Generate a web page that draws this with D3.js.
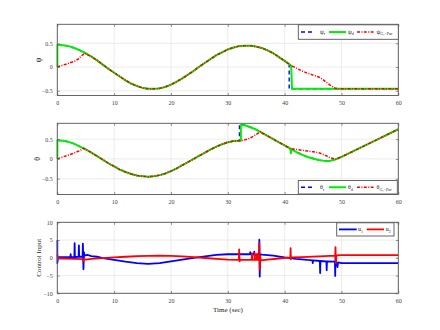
<!DOCTYPE html>
<html><head><meta charset="utf-8">
<script src="https://cdn.jsdelivr.net/npm/d3@7"></script>
<style>
body{margin:0;background:#fff}
svg{display:block}
text{font-family:"Liberation Serif","Times New Roman",serif}
</style>
</head><body>
<svg id="c" width="440" height="330"></svg>
<script>
// ---------------- DATA ----------------
const xTicks = [0,10,20,30,40,50,60];
const psiTicks = [-0.5,0,0.5];
const thetaTicks = [-0.5,0,0.5];
const uTicks = [-10,-5,0,5,10];

// psi (yaw) panel
const psiMid = [[5,0.29],[6,0.22],[7,0.14],[8,0.05],[9,-0.04],[10,-0.12],[11,-0.20],[12,-0.28],[13,-0.35],[14,-0.40],[15,-0.44],[16,-0.46],[17,-0.46],[18,-0.45],[19,-0.42],[20,-0.37],[21,-0.31],[22,-0.24],[23,-0.16],[24,-0.08],[25,0.01],[26,0.09],[27,0.17],[28,0.25],[29,0.31],[30,0.37],[31,0.41],[32,0.44],[33,0.45],[34,0.45],[35,0.43],[36,0.40],[37,0.35],[38,0.29],[39,0.21],[40,0.13]];
const psiRefStart = [[0,0.47],[1,0.46],[2,0.44],[3,0.40],[4,0.35]];
const psiRefEnd = [[40.8,0.06],[40.8,-0.46],[60,-0.46]];
const psiDesStart = [[0,0],[0,0.47],[1,0.46],[2,0.44],[3,0.40],[4,0.35]];
const psiDesEnd = [[41,0.04],[41.15,0.03],[41.3,-0.46],[60,-0.46]];
const psiPurStart = [[0,0],[1,0.04],[2,0.08],[3,0.12],[3.6,0.16],[4.2,0.23],[4.8,0.29]];
const psiPurEnd = [[41,0.04],[42,-0.02],[43,-0.08],[44,-0.13],[45,-0.17],[46,-0.21],[46.6,-0.25],[47.2,-0.31],[48,-0.38],[48.8,-0.44],[49.5,-0.46],[60,-0.46]];

// theta (pitch) panel
const thetaMid = [[5,0.24],[6,0.16],[7,0.07],[8,-0.02],[9,-0.11],[10,-0.19],[11,-0.27],[12,-0.33],[13,-0.38],[14,-0.42],[15,-0.44],[16,-0.45],[17,-0.44],[18,-0.41],[19,-0.37],[20,-0.31],[21,-0.24],[22,-0.16],[23,-0.08],[24,0.0],[25,0.08],[26,0.16],[27,0.24],[28,0.31],[29,0.37],[30,0.42],[31,0.45],[32,0.46]];
const thetaHigh = [[33,0.85],[34,0.80],[35,0.74],[36,0.66],[37,0.58],[38,0.50],[39,0.42],[40,0.34],[41,0.26]];
const thetaLate = [[49,-0.01],[50,0.05],[51,0.12],[52,0.19],[53,0.26],[54,0.33],[55,0.40],[56,0.47],[57,0.54],[58,0.61],[59,0.68],[60,0.75]];
const thetaDip = [[42,0.18],[43,0.11],[44,0.05],[45,0.01],[46,-0.03],[47,-0.05],[48,-0.05]];
const thetaRefStart = [[0,0.47],[1,0.46],[2,0.43],[3,0.38],[4,0.31]];
const thetaRefJump = [[32.05,0.46],[32.05,0.88],[33,0.85]];
const thetaDesStart = [[0,0],[0,0.47],[1,0.46],[2,0.43],[3,0.38],[4,0.31]];
const thetaDesJump = [[32.3,0.46],[32.3,0.86]];
const thetaDesBlip = [[41.1,0.14],[41.2,0.25]];
const thetaPurStart = [[0,0],[1,0.05],[2,0.10],[3,0.15],[4,0.21],[4.6,0.27]];
const thetaPurRise = [[32.3,0.46],[33,0.48],[34,0.53],[35,0.62],[35.8,0.69],[36,0.66],[37,0.58],[38,0.50],[39,0.42],[40,0.34],[41,0.26]];
const thetaPurEnd = [[42,0.24],[43,0.22],[44,0.20],[45,0.18],[46,0.16],[47,0.10],[48,0.03]];

// control inputs
const u1 = [[0,5.0],[0,-1.5],[0.15,0.2],[1,0.2],[2.3,0.2],[2.35,1.0],[2.4,0.2],[3.0,0.2],[3.05,4.1],[3.1,0.2],[3.75,0.3],[3.8,3.5],[3.85,0.3],[4.45,0.3],[4.5,4.0],[4.6,-3.2],[4.7,1.5],[4.8,0.6],[5.3,0.8],[6,0.5],[7,0.3],[8,-0.1],[10,-0.6],[12,-1.1],[14,-1.5],[16,-1.7],[18,-1.5],[20,-1.0],[22,-0.5],[24,0.0],[26,0.4],[28,0.8],[30,1.0],[33.9,1.0],[33.95,1.6],[34.0,1.0],[34.6,1.0],[34.65,1.7],[34.7,0.6],[35.5,1.0],[35.55,5.1],[35.62,-5.3],[35.7,1.0],[36,0.9],[38,0.6],[40,0.1],[42,-0.3],[44,-0.6],[44.9,-0.7],[44.95,-1.5],[45.0,-0.7],[46.2,-0.9],[46.25,-4.3],[46.3,-0.9],[47.35,-1.0],[47.4,-3.5],[47.45,-1.0],[48.85,-1.1],[48.9,-5.1],[48.95,0.5],[49.05,-1.0],[49.3,-2.6],[49.4,-1.3],[50,-1.5],[60,-1.5]];
const u2 = [[0,1.0],[0.1,-0.2],[1,-0.2],[3,-0.3],[4.5,-0.4],[4.6,-1.0],[4.7,-0.4],[5,-0.5],[6,-0.3],[8,-0.1],[10,0.1],[12,0.3],[14,0.45],[16,0.55],[18,0.6],[20,0.55],[22,0.4],[24,0.2],[26,-0.05],[28,-0.3],[30,-0.5],[31.95,-0.6],[32.0,2.4],[32.08,-1.0],[32.2,-0.6],[34.2,-0.6],[34.25,1.3],[34.3,-0.6],[34.7,-0.6],[34.75,1.3],[34.8,-0.6],[35.1,-0.6],[35.15,1.2],[35.2,-0.6],[35.5,-0.6],[35.55,4.1],[35.62,-3.4],[35.7,0.5],[35.8,-0.7],[37,-0.5],[39,-0.2],[41,0.1],[41.05,2.7],[41.1,-0.4],[41.2,0.1],[43,0.2],[45,0.35],[47,0.5],[48.9,0.6],[48.95,3.0],[49.02,-1.5],[49.1,0.7],[50,0.75],[60,0.75]];

// ---------------- DRAW ----------------
const svg = d3.select("#c");
const x = d3.scaleLinear([0,60],[57.3,398.3]);
const BLUE="#0000ff", GREEN="#00ee00", RED="#ff0000";
const styles = {
  ref:{color:BLUE,width:1.4,dash:"4,3"},
  des:{color:GREEN,width:2,dash:null},
  pur:{color:RED,width:1.5,dash:"3,1.4,1,1.4"},
  u1:{color:BLUE,width:1.8,dash:null},
  u2:{color:RED,width:1.8,dash:null}
};

function panel(cfg){
  const y = d3.scaleLinear(cfg.domain,[cfg.bottom,cfg.top]);
  const g = svg.append("g");
  g.selectAll(".gx").data(xTicks).join("line")
    .attr("x1",d=>x(d)).attr("x2",d=>x(d)).attr("y1",cfg.top).attr("y2",cfg.bottom)
    .attr("stroke","#e4e4e4").attr("stroke-width",0.7);
  g.selectAll(".gy").data(cfg.yTicks).join("line")
    .attr("x1",x(0)).attr("x2",x(60)).attr("y1",d=>y(d)).attr("y2",d=>y(d))
    .attr("stroke","#e4e4e4").attr("stroke-width",0.7);
  const clip = "clip"+cfg.id;
  svg.append("clipPath").attr("id",clip).append("rect")
    .attr("x",x(0)-1).attr("y",cfg.top).attr("width",x(60)-x(0)+1).attr("height",cfg.bottom-cfg.top);
  const line = d3.line().x(d=>x(d[0])).y(d=>y(d[1]));
  const sg = g.append("g").attr("clip-path",`url(#${clip})`);
  cfg.series.forEach(s=>{
    const st = styles[s.style];
    sg.append("path").attr("d",line(s.data)).attr("fill","none")
      .attr("stroke",st.color).attr("stroke-width",st.width)
      .attr("stroke-dasharray",st.dash).attr("stroke-linejoin","round");
  });
  const fmt = cfg.fmt;
  const axB = g.append("g").attr("transform",`translate(0,${cfg.bottom})`)
    .call(d3.axisBottom(x).tickValues(xTicks).tickSize(-2.5).tickPadding(5).tickFormat(d3.format("d")));
  const axT = g.append("g").attr("transform",`translate(0,${cfg.top})`)
    .call(d3.axisTop(x).tickValues(xTicks).tickSize(-2.5).tickFormat(""));
  const axL = g.append("g").attr("transform",`translate(${x(0)},0)`)
    .call(d3.axisLeft(y).tickValues(cfg.yTicks).tickSize(-2.5).tickPadding(4.5).tickFormat(fmt));
  const axR = g.append("g").attr("transform",`translate(${x(60)},0)`)
    .call(d3.axisRight(y).tickValues(cfg.yTicks).tickSize(-2.5).tickFormat(""));
  [axB,axT,axL,axR].forEach(a=>{
    a.select(".domain").remove();
    a.selectAll("line").attr("stroke","#666").attr("stroke-width",0.7);
    a.selectAll("text").attr("font-family","'Liberation Serif',serif").attr("font-size",6).attr("fill","#444");
  });
  g.append("rect").attr("x",x(0)).attr("y",cfg.top).attr("width",x(60)-x(0)).attr("height",cfg.bottom-cfg.top)
    .attr("fill","none").attr("stroke","#555").attr("stroke-width",0.9);
  g.append("text").attr("transform",`translate(${cfg.ylabX},${(cfg.top+cfg.bottom)/2}) rotate(-90)`)
    .attr("text-anchor","middle").attr("dominant-baseline","central")
    .attr("font-size",cfg.ylabSize).attr("fill","#222").text(cfg.ylabel);
  const L = cfg.legend;
  const lg = g.append("g");
  lg.append("rect").attr("x",L.x1).attr("y",L.y1).attr("width",L.x2-L.x1).attr("height",L.y2-L.y1)
    .attr("fill","#fff").attr("stroke","#555").attr("stroke-width",0.9);
  const cy = (L.y1+L.y2)/2;
  L.items.forEach(it=>{
    const st = styles[it.style];
    lg.append("line").attr("x1",it.a).attr("x2",it.b).attr("y1",cy).attr("y2",cy)
      .attr("stroke",st.color).attr("stroke-width",st.width).attr("stroke-dasharray",st.dash);
    const t = lg.append("text").attr("x",it.tx).attr("y",cy+1.8).attr("font-size",6).attr("fill","#222");
    t.append("tspan").text(it.label);
    t.append("tspan").attr("font-size",4).attr("dy",1.5).text(it.sub);
  });
  return y;
}

panel({id:1, domain:[-0.6,0.9], top:24.3, bottom:95.5, yTicks:psiTicks, fmt:d3.format("~g"),
  ylabel:"ψ", ylabX:38, ylabSize:8,
  series:[
    {style:"ref", data:psiRefStart.concat(psiMid, psiRefEnd)},
    {style:"des", data:psiDesStart.concat(psiMid, psiDesEnd)},
    {style:"pur", data:psiPurStart.concat(psiMid.slice(1), psiPurEnd)}
  ],
  legend:{x1:298.3,x2:398.3,y1:24.8,y2:39.3, items:[
    {style:"ref",a:301,b:315,tx:320,label:"ψ",sub:"r"},
    {style:"des",a:329,b:346,tx:348,label:"ψ",sub:"d"},
    {style:"pur",a:357,b:375,tx:376.5,label:"ψ",sub:"G₁−Pur"}
  ]}
});

panel({id:2, domain:[-0.9,0.9], top:123.3, bottom:194.5, yTicks:thetaTicks, fmt:d3.format("~g"),
  ylabel:"θ", ylabX:37, ylabSize:8,
  series:[
    {style:"ref", data:thetaRefStart.concat(thetaMid, thetaRefJump, thetaHigh.slice(1), thetaDip, thetaLate)},
    {style:"des", data:thetaDesStart.concat(thetaMid, thetaDesJump, thetaHigh, thetaDesBlip, thetaDip, thetaLate)},
    {style:"pur", data:thetaPurStart.concat(thetaMid, thetaPurRise, thetaPurEnd, thetaLate)}
  ],
  legend:{x1:298.3,x2:397.3,y1:180.5,y2:194, items:[
    {style:"ref",a:301,b:315,tx:320,label:"θ",sub:"r"},
    {style:"des",a:329,b:346,tx:348,label:"θ",sub:"d"},
    {style:"pur",a:357,b:375,tx:376.5,label:"θ",sub:"G₁−Pur"}
  ]}
});

panel({id:3, domain:[-10,10], top:222.3, bottom:293.3, yTicks:uTicks, fmt:d3.format("d"),
  ylabel:"Control Input", ylabX:39, ylabSize:7,
  series:[
    {style:"u1", data:u1},
    {style:"u2", data:u2}
  ],
  legend:{x1:336.7,x2:394,y1:222.8,y2:236, items:[
    {style:"u1",a:339,b:356.7,tx:358,label:"u",sub:"1"},
    {style:"u2",a:366.7,b:384,tx:385.7,label:"u",sub:"2"}
  ]}
});

svg.append("text").attr("x",228).attr("y",311.5).attr("text-anchor","middle")
  .attr("font-size",7).attr("fill","#222").text("Time (sec)");
</script>
</body></html>
